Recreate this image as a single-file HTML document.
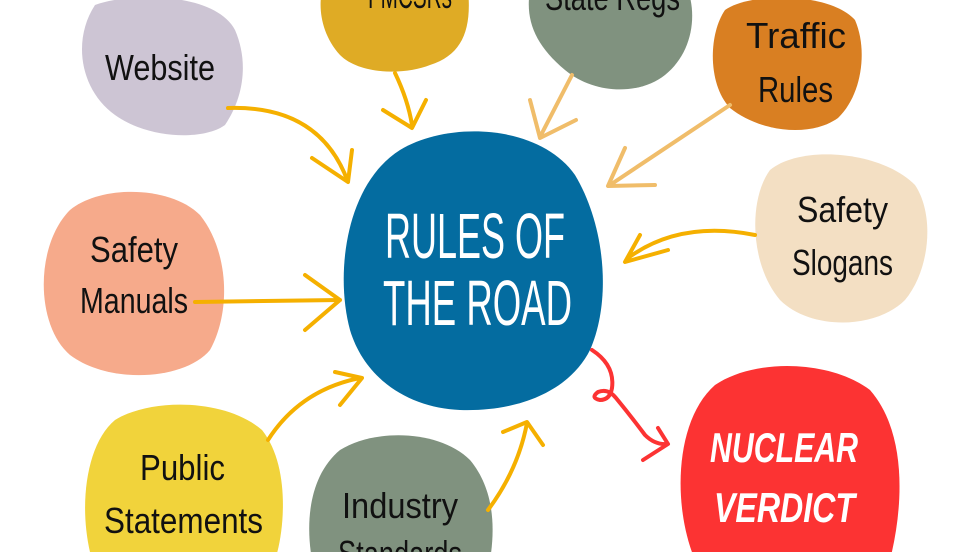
<!DOCTYPE html>
<html><head><meta charset="utf-8"><style>
html,body{margin:0;padding:0;background:#fff;width:980px;height:552px;overflow:hidden}
svg{display:block;overflow:hidden}
.t{font-family:"Liberation Sans",sans-serif;fill:#111;font-weight:normal}
.w{font-family:"Liberation Sans",sans-serif;fill:#fff}
.a{fill:none;stroke:#f5b000;stroke-width:4;stroke-linecap:round;stroke-linejoin:round}
.l{fill:none;stroke:#f0bd6a;stroke-width:4;stroke-linecap:round;stroke-linejoin:round}
.r{fill:none;stroke:#fc3333;stroke-width:4;stroke-linecap:round;stroke-linejoin:round}
</style></head><body>
<svg width="980" height="552" viewBox="0 0 980 552" xmlns="http://www.w3.org/2000/svg">
<path d="M95,5 C130,-8 215,-8 235,30 C248,60 245,95 225,125 C205,140 150,140 115,115 C80,90 72,40 95,5Z" fill="#cdc5d4"/>
<path d="M322,-10 L468,-10 C472,30 462,55 430,65 C405,75 360,75 340,55 C322,35 318,10 322,-10Z" fill="#dfab25"/>
<path d="M530,-10 L688,-10 C698,20 690,55 665,75 C640,95 595,95 565,70 C535,45 525,20 530,-10Z" fill="#80927f"/>
<path d="M725,10 C750,-8 830,-8 855,20 C868,50 862,95 838,118 C810,138 760,132 730,108 C708,85 708,35 725,10Z" fill="#d97f22"/>
<path d="M770,170 C800,145 880,150 915,185 C935,215 930,270 905,300 C875,330 810,330 780,300 C750,265 748,200 770,170Z" fill="#f3dfc3"/>
<path d="M400,150 C450,120 540,125 575,175 C605,225 612,300 590,350 C570,390 520,412 460,410 C410,408 365,380 350,330 C335,275 345,185 400,150Z" fill="#046ca0"/>
<path d="M70,210 C100,185 170,185 200,215 C228,250 232,310 210,350 C185,380 110,385 70,355 C35,325 35,245 70,210Z" fill="#f6aa8b"/>
<path d="M115,420 C150,398 225,398 262,430 C290,465 285,530 275,560 L92,560 C78,510 85,445 115,420Z" fill="#f1d33b"/>
<path d="M340,450 C375,428 440,430 470,460 C495,490 495,530 490,560 L312,560 C305,520 310,475 340,450Z" fill="#80927f"/>
<path d="M715,385 C755,358 830,360 870,390 C905,430 905,500 890,560 L695,560 C672,505 675,420 715,385Z" fill="#fc3333"/>
<path class="a" d="M228,108 Q320,105 348,182 M312,158 L348,182 L352,150"/>
<path class="a" d="M395,73 Q408,100 412,125 M383,110 L412,128 L426,100"/>
<path class="l" d="M572,75 L540,137 M530,100 L540,138 L576,120"/>
<path class="l" d="M730,105 L610,185 M625,148 L608,186 L655,185"/>
<path class="a" d="M755,235 Q680,220 628,258 M640,235 L625,262 L668,250"/>
<path class="a" d="M195,302 L340,300 M305,275 L340,300 L305,330"/>
<path class="a" d="M268,440 Q300,390 360,378 M335,372 L362,378 L340,405"/>
<path class="a" d="M488,510 Q518,470 527,423 M503,432 L527,422 L543,445"/>
<path class="r" d="M592,350 Q615,365 612,388 Q610,400 600,400 Q590,398 598,392 Q608,388 616,398 Q630,415 645,435 Q655,445 667,444 M658,428 L668,444 L643,460"/>
<text class="t" x="105" y="80" font-size="36" textLength="110" lengthAdjust="spacingAndGlyphs">Website</text>
<text class="t" x="368" y="8" font-size="36" textLength="84" lengthAdjust="spacingAndGlyphs">FMCSRs</text>
<text class="t" x="545" y="10" font-size="36" textLength="135" lengthAdjust="spacingAndGlyphs">State Regs</text>
<text class="t" x="746" y="48" font-size="36" textLength="100" lengthAdjust="spacingAndGlyphs">Traffic</text>
<text class="t" x="758" y="102" font-size="36" textLength="75" lengthAdjust="spacingAndGlyphs">Rules</text>
<text class="t" x="797" y="222" font-size="36" textLength="91" lengthAdjust="spacingAndGlyphs">Safety</text>
<text class="t" x="792" y="275" font-size="36" textLength="101" lengthAdjust="spacingAndGlyphs">Slogans</text>
<text class="t" x="90" y="262" font-size="36" textLength="88" lengthAdjust="spacingAndGlyphs">Safety</text>
<text class="t" x="80" y="313" font-size="36" textLength="108" lengthAdjust="spacingAndGlyphs">Manuals</text>
<text class="t" x="140" y="480" font-size="36" textLength="85" lengthAdjust="spacingAndGlyphs">Public</text>
<text class="t" x="104" y="533" font-size="36" textLength="159" lengthAdjust="spacingAndGlyphs">Statements</text>
<text class="t" x="342" y="518" font-size="36" textLength="116" lengthAdjust="spacingAndGlyphs">Industry</text>
<text class="t" x="338" y="566" font-size="36" textLength="124" lengthAdjust="spacingAndGlyphs">Standards</text>
<text class="w" x="385" y="258" font-size="64" textLength="180" lengthAdjust="spacingAndGlyphs">RULES OF</text>
<text class="w" x="383" y="325" font-size="64" textLength="189" lengthAdjust="spacingAndGlyphs">THE ROAD</text>
<text class="w" x="710" y="462" font-size="42" font-weight="bold" font-style="italic" textLength="148" lengthAdjust="spacingAndGlyphs">NUCLEAR</text>
<text class="w" x="714" y="522" font-size="42" font-weight="bold" font-style="italic" textLength="141" lengthAdjust="spacingAndGlyphs">VERDICT</text>
</svg>
</body></html>
